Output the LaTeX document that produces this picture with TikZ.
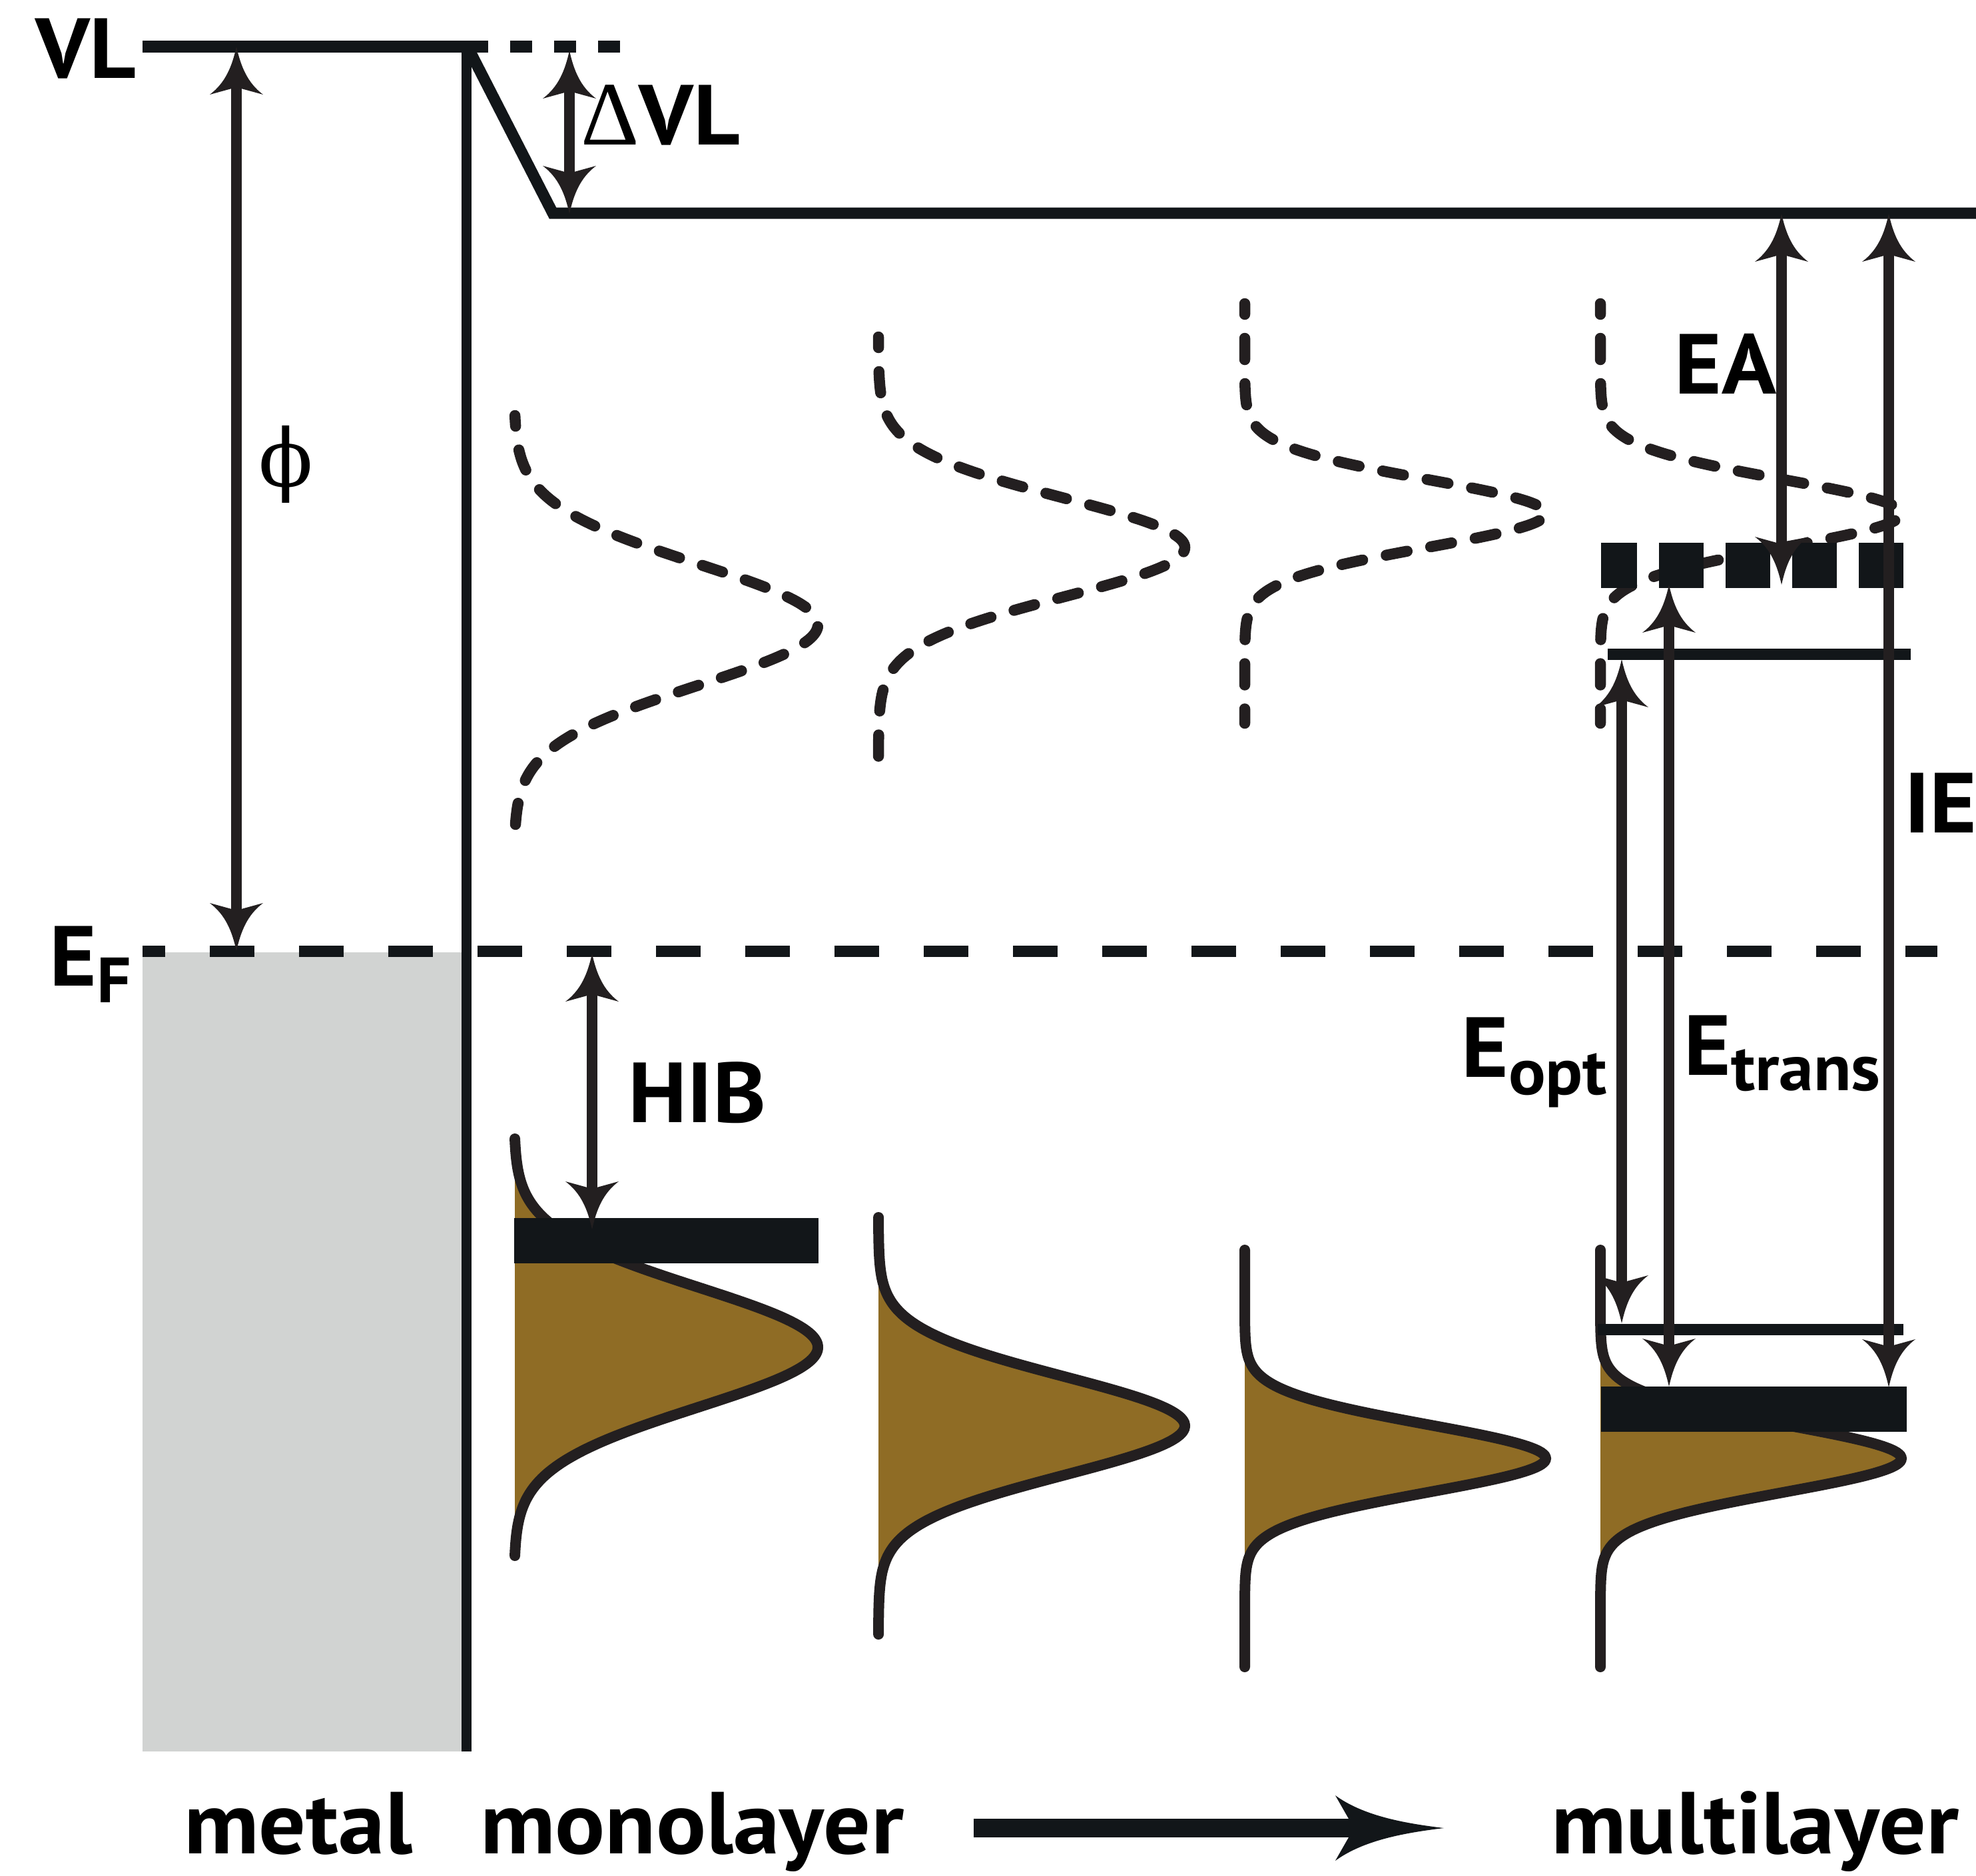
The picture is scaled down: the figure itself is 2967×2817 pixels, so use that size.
\documentclass[tikz,border=0pt]{standalone}
\usepackage{fontspec}
\usetikzlibrary{arrows.meta}
\newfontfamily\ptsans{PT Sans}[FakeStretch=1.06]
\newfontfamily\tnrfont{Liberation Serif}
\newfontfamily\djsfont{DejaVu Serif}
\definecolor{ink}{RGB}{35,31,32}
\definecolor{barcol}{RGB}{18,22,25}
\definecolor{metalgrey}{RGB}{209,211,210}
\definecolor{dosbrown}{RGB}{143,108,37}
\newdimen\ctipd
\pgfdeclarearrow{
  name = CTip,
  parameters = {\the\pgfarrowlength,\the\pgfarrowwidth,\the\pgfarrowinset},
  setup code = {
    \pgfarrowssettipend{0pt}
    \pgfarrowssetbackend{-\pgfarrowlength}
    \pgfarrowssetlineend{-.55\pgfarrowlength}
    \pgfarrowsupperhullpoint{-\pgfarrowlength}{.5\pgfarrowwidth}
    \pgfarrowsupperhullpoint{0pt}{0pt}
    \pgfarrowssavethe\pgfarrowlength
    \pgfarrowssavethe\pgfarrowwidth
    \pgfarrowssavethe\pgfarrowinset
  },
  drawing code = {
    \ctipd=\pgfarrowinset
    \advance\ctipd by -\pgfarrowlength
    \pgfpathmoveto{\pgfqpoint{0pt}{0pt}}
    \pgfpathcurveto{\pgfqpoint{-.4\pgfarrowlength}{.08\pgfarrowwidth}}{\pgfqpoint{-.75\pgfarrowlength}{.2\pgfarrowwidth}}{\pgfqpoint{-\pgfarrowlength}{.5\pgfarrowwidth}}
    \pgfpathlineto{\pgfqpoint{\ctipd}{0pt}}
    \pgfpathlineto{\pgfqpoint{-\pgfarrowlength}{-.5\pgfarrowwidth}}
    \pgfpathcurveto{\pgfqpoint{-.75\pgfarrowlength}{-.2\pgfarrowwidth}}{\pgfqpoint{-.4\pgfarrowlength}{-.08\pgfarrowwidth}}{\pgfqpoint{0pt}{0pt}}
    \pgfpathclose
    \pgfusepathqfill
  },
  defaults = {length=72pt, width=80pt, inset=11pt}
}
\tikzset{
  lvl/.style={line width=17pt, draw=barcol},
  dimarrow/.style={line width=16pt, draw=ink, fill=ink, arrows={CTip-CTip}},
  lumo/.style={line width=16.5pt, draw=ink, line cap=round, dash pattern=on 32pt off 36pt, dash phase=16pt},
  homo/.style={line width=16pt, draw=ink, line cap=round},
  lab/.style={inner sep=0pt, anchor=base west, font=\ptsans\bfseries\fontsize{128}{130}\selectfont},
  botlab/.style={lab, font=\ptsans\bfseries\fontsize{132}{134}\selectfont},
  gauss/.style n args={5}{insert path={plot[domain=-#5:#5, samples=141, smooth, variable=\t]({#1+#3*exp(-0.5*(\t/#4)*(\t/#4))},{#2+\t})}}
}
\newcommand\sub[2]{\raisebox{-#1pt}{\fontsize{98}{98}\selectfont #2}}
\begin{document}
\begin{tikzpicture}[x=1pt, y=-1pt]
\useasboundingbox (0,0) rectangle (2967,2817);
% metal
\fill[metalgrey] (214,1430) rectangle (693,2630);
% filled (occupied) gaussians
\fill[dosbrown, gauss={772}{2023}{456}{90}{313}] -- cycle;
\fill[dosbrown, gauss={1319}{2141}{460}{74}{313}] -- cycle;
\fill[dosbrown, gauss={1869}{2190}{452}{51}{313}] -- cycle;
\fill[dosbrown, gauss={2403}{2190}{452}{51}{313}] -- cycle;
\draw[homo, gauss={772}{2023}{456}{90}{313}];
\draw[homo, gauss={1319}{2141}{460}{74}{313}];
\draw[homo, gauss={1869}{2190}{452}{51}{313}];
\draw[homo, gauss={2403}{2190}{452}{51}{313}];
% empty gaussians
\draw[lumo, gauss={772}{938}{456}{91}{314}];
\draw[lumo, gauss={1319}{822}{460}{74}{316}];
\draw[lumo, gauss={1869}{771}{452}{51}{315}];
\draw[lumo, gauss={2403}{771}{452}{51}{315}];
% vacuum levels
\draw[lvl, line width=18pt] (214,70) -- (700,70);
\draw[lvl, line width=18pt, dash pattern=on 33pt off 33pt] (700,70) -- (934,70);
\draw[lvl, miter limit=20] (704,74) -- (830,320) -- (2967,320);
\draw[lvl, line width=15pt] (700,61) -- (700,2630);
% Fermi level
\draw[lvl, dash pattern=on 67pt off 67pt, dash phase=33pt] (214,1428.5) -- (2909,1428.5);
% molecular levels
\fill[barcol] (772,1829) rectangle (1229,1897);
\fill[barcol] (2404,2082) rectangle (2863,2150);
\draw[barcol, line width=68pt, dash pattern=on 67pt off 33pt, dash phase=13pt] (2404,849) -- (2858,849);
\draw[lvl] (2414,982.5) -- (2869,982.5);
\draw[lvl] (2399,1996) -- (2858,1996);
% arrows
\coordinate (phiT) at (355,70);   \coordinate (phiB) at (355,1428);
\coordinate (dvlT) at (855,76);   \coordinate (dvlB) at (855,321);
\coordinate (hibT) at (889,1432); \coordinate (hibB) at (889,1846);
\coordinate (eaT) at (2675,321);  \coordinate (eaB) at (2675,878);
\coordinate (ieT) at (2836,321);  \coordinate (ieB) at (2836,2083);
\coordinate (eoT) at (2435,990);  \coordinate (eoB) at (2435,1987);
\coordinate (etT) at (2506,878);  \coordinate (etB) at (2506,2082);
\draw[dimarrow] (phiT) -- (phiB);
\draw[dimarrow] (dvlT) -- (dvlB);
\draw[dimarrow] (hibT) -- (hibB);
\draw[dimarrow] (eaT) -- (eaB);
\draw[dimarrow] (ieT) -- (ieB);
\draw[dimarrow] (eoT) -- (eoB);
\draw[dimarrow] (etT) -- (etB);
\coordinate (arrS) at (1462,2745); \coordinate (arrE) at (2168,2745);
\draw[line width=28pt, draw=barcol, fill=barcol, arrows={-CTip[length=163pt,width=98pt,inset=28pt]}] (arrS) -- (arrE);
% labels
\node[lab] (vl) at (53,117) {VL};
\node[lab] (dvl) at (872,217) {{\tnrfont\mdseries\fontsize{136}{136}\selectfont Δ}VL};
\node[inner sep=0pt, anchor=center] (phi) at (429,697) {\djsfont\fontsize{120}{120}\selectfont ϕ};
\node[lab] (ef) at (74,1480) {E\raisebox{-25pt}{\fontsize{96}{96}\selectfont F}};
\node[lab] (hib) at (943,1685) {HIB};
\node[lab] (ea) at (2514,591) {EA};
\node[lab] (ie) at (2859,1250) {IE};
\node[lab] (eopt) at (2194,1617) {E\sub{26}{opt}};
\node[lab] (etr) at (2528,1614) {E\sub{23}{trans}};
\node[botlab] (metal) at (276,2783) {metal};
\node[botlab] (mono) at (721,2783) {monolayer};
\node[botlab] (multi) at (2329,2783) {multilayer};
\end{tikzpicture}
\end{document}
